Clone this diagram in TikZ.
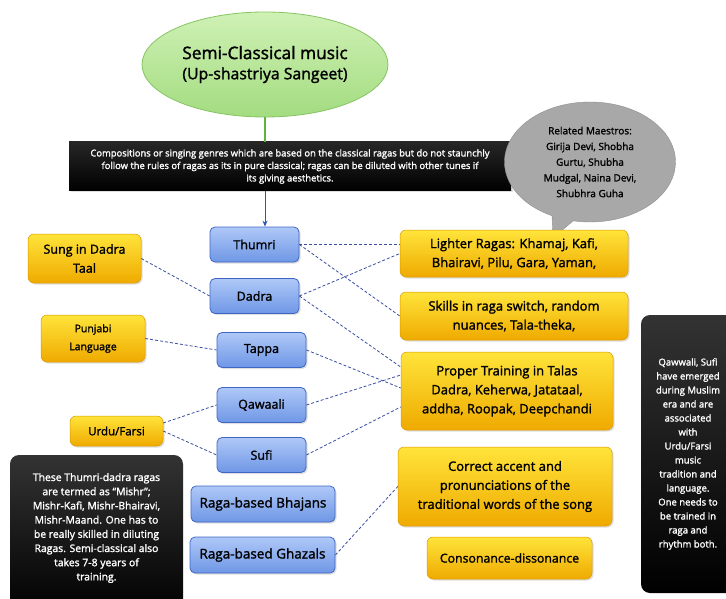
\documentclass[tikz,border=0pt]{standalone}
\usepackage{fontspec}
\setmainfont{Open Sans}[UprightFeatures={FakeBold=1.6}]
\usetikzlibrary{shapes.geometric,shapes.callouts,shadows,calc,arrows.meta}

\definecolor{linkblue}{HTML}{3A4FA0}
\definecolor{genretop}{HTML}{AFC8F7}
\definecolor{genrebot}{HTML}{6F97E6}
\definecolor{genreedge}{HTML}{3F66C4}
\definecolor{goldtop}{HTML}{FFE43A}
\definecolor{goldbot}{HTML}{EFAA00}
\definecolor{goldedge}{HTML}{D99A00}
\definecolor{leaftop}{HTML}{CFF1B5}
\definecolor{leafbot}{HTML}{A3DC80}
\definecolor{leafedge}{HTML}{86C464}
\definecolor{stemgreen}{HTML}{5DB53A}
\definecolor{arrowblue}{HTML}{2F56BD}
\definecolor{cloudgray}{HTML}{A8A8A8}
\definecolor{cloudedge}{HTML}{8E8E8E}

\tikzset{
  x=1pt, y=-1pt,
  softshadow/.style={drop shadow={opacity=0.25, shadow xshift=1.5pt, shadow yshift=-1.5pt}},
  genre/.style={draw=genreedge, line width=0.8pt, rounded corners=5pt,
    top color=genretop, bottom color=genrebot, minimum height=35pt,
    inner sep=0pt, font=\fontsize{12.5}{14}\selectfont, softshadow},
  gold/.style={draw=goldedge, line width=0.5pt, rounded corners=6pt,
    top color=goldtop, bottom color=goldbot, align=center, inner sep=0pt,
    font=\fontsize{13}{19}\selectfont, softshadow},
  night/.style={top color=black!80, bottom color=black, text=white,
    align=center, inner sep=0pt, font=\fontsize{9.5}{14}\selectfont},
  link/.style={draw=linkblue, line width=0.8pt, dash pattern=on 3pt off 2pt},
}

\begin{document}
\begin{tikzpicture}
\useasboundingbox (0,0) rectangle (726,599);
\clip (0,0) rectangle (726,599);
\fill[white] (0,0) rectangle (726,599);

% title and introduction
\node[ellipse, draw=leafedge, line width=0.8pt, top color=leaftop, bottom color=leafbot,
      minimum width=246pt, minimum height=105pt, inner sep=0pt, align=center]
  (title) at (265,64.5)
  {{\fontsize{17.3}{22}\selectfont Semi-Classical music}\\[7pt]
   {\fontsize{15.8}{18}\selectfont (Up-shastriya Sangeet)}};

\node[night, top color=black!85, minimum width=442pt, minimum height=49pt,
      font=\fontsize{9.4}{12.5}\selectfont, softshadow]
  (intro) at (290,166.5)
  {Compositions or singing genres which are based on the classical ragas but do not staunchly\\
   follow the rules of ragas as its in pure classical; ragas can be diluted with other tunes if\\
   its giving aesthetics.};

% maestros bubble
\node[ellipse callout, draw=cloudedge, fill=cloudgray, minimum width=171pt, minimum height=120pt,
      inner sep=0pt, align=center, font=\fontsize{10}{15.7}\selectfont,
      callout absolute pointer={(553,238)}]
  (maestros) at (590,162)
  {Related Maestros:\\ Girija Devi, Shobha\\ Gurtu, Shubha\\ Mudgal, Naina Devi,\\ Shubhra Guha};

% genres
\node[genre, minimum width=89pt]  (thumri)  at (254.5,244.5) {Thumri};
\node[genre, minimum width=89pt]  (dadra)   at (254.5,296)   {Dadra};
\node[genre, minimum width=89pt]  (tappa)   at (261.5,350)   {Tappa};
\node[genre, minimum width=89pt]  (qawaali) at (261.5,405)   {Qawaali};
\node[genre, minimum width=89pt]  (sufi)    at (261.5,455)   {Sufi};
\node[genre, minimum width=144pt, minimum height=36pt, font=\fontsize{13.5}{14}\selectfont]
  (bhajans) at (263,504) {Raga-based Bhajans};
\node[genre, minimum width=145pt, minimum height=36pt, font=\fontsize{13.5}{14}\selectfont]
  (ghazals) at (262.5,555) {Raga-based Ghazals};

% left notes
\node[gold, minimum width=113pt, minimum height=49pt, font=\fontsize{12.5}{19}\selectfont]
  (taal)    at (84.5,258.5) {Sung in Dadra\\ Taal};
\node[gold, minimum width=104pt, minimum height=47pt, font=\fontsize{10.5}{18}\selectfont]
  (punjabi) at (93,338.5) {Punjabi\\ Language};
\node[gold, minimum width=93pt,  minimum height=30pt, font=\fontsize{11.5}{14}\selectfont]
  (urdu)    at (116.5,431) {Urdu/Farsi};

% right notes
\node[gold, minimum width=228pt, minimum height=47pt] (lighter)  at (514,253.5)
  {Lighter Ragas: Khamaj, Kafi,\\ Bhairavi, Pilu, Gara, Yaman,};
\node[gold, minimum width=228pt, minimum height=48pt] (skills)   at (514,316)
  {Skills in raga switch, random\\ nuances, Tala-theka,};
\node[gold, minimum width=212pt, minimum height=78pt] (training) at (507,391)
  {Proper Training in Talas\\ Dadra, Keherwa, Jatataal,\\ addha, Roopak, Deepchandi};
\node[gold, minimum width=214pt, minimum height=79pt] (accent)   at (505,486.5)
  {Correct accent and\\ pronunciations of the\\ traditional words of the song};
\node[gold, minimum width=165pt, minimum height=42pt, font=\fontsize{12.3}{14}\selectfont]
  (consonance) at (509.5,558) {Consonance-dissonance};

% dark side notes
\node[night, rounded corners=9pt, minimum width=94pt, minimum height=278pt] (sufinote) at (688,454)
  {Qawwali, Sufi\\ have emerged\\ during Muslim\\ era and are\\ associated\\ with\\ Urdu/Farsi\\
   music\\ tradition and\\ language.\\ One needs to\\ be trained in\\ raga and\\ rhythm both.};
\node[night, rounded corners=9pt, minimum width=173pt, minimum height=160pt] (mishr) at (96.5,535)
  {};
\node[text=white, align=center, font=\fontsize{10.4}{14.2}\selectfont, inner sep=0pt]
  (mishrtext) at (96.5,528)
  {These Thumri-dadra ragas\\ are termed as ``Mishr'';\\ Mishr-Kafi, Mishr-Bhairavi,\\
   Mishr-Maand. One has to\\ be really skilled in diluting\\ Ragas. Semi-classical also\\
   takes 7-8 years of\\ training.};

% trunk
\draw[stemgreen, line width=1.2pt] (title.south) -- (title.south |- intro.north);
\draw[arrowblue, line width=0.9pt, -{Stealth[length=6pt,width=5pt]}]
  (title.south |- intro.south) -- (title.south |- thumri.north);

% dashed links
\draw[link] (thumri.east) -- (thumri.east -| lighter.west);
\draw[link] (thumri.east) -- (skills.west);
\draw[link] (dadra.east) -- (lighter.west);
\draw[link] (dadra.east) -- ($(training.west)+(0,-24)$);
\draw[link] (tappa.east) -- ($(training.west)+(0,-3)$);
\draw[link] (qawaali.east) -- ($(training.west)+(0,-16)$);
\draw[link] (sufi.east) -- ($(training.west)+(0,16)$);
\draw[link] (ghazals.east) -- (accent.west);
\draw[link] (taal.east) -- (dadra.west);
\draw[link] (punjabi.east) -- (tappa.west);
\draw[link] ($(urdu.east)+(0,-8)$) -- (qawaali.west);
\draw[link] (urdu.east) -- (sufi.west);
\end{tikzpicture}
\end{document}
